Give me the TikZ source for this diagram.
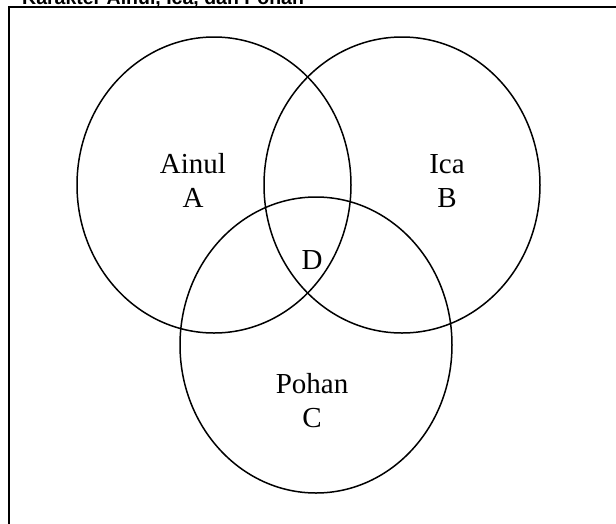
\documentclass[tikz,border=0pt]{standalone}
\usepackage{fontspec}
\setmainfont{Liberation Serif}
\newfontfamily\titlefont[BoldFont={Liberation Sans Bold}]{Liberation Sans}
\begin{document}
\begin{tikzpicture}[x=1pt,y=-1pt,
  circ/.style={draw=black,line width=1.5pt},
  lbl/.style={font=\fontsize{29}{34}\selectfont,align=center,inner sep=0pt},
  frame/.style={draw=black,line width=2.2pt}]
\useasboundingbox (0,0) rectangle (616,523);
\clip (0,0) rectangle (616,523);
\node[anchor=base west,inner sep=0pt,font=\titlefont\bfseries\fontsize{19.5}{22}\selectfont] (title) at (22,4.5) {Karakter Ainul, Ica, dan Pohan};
\draw[frame] (9,7) rectangle (640,560);
\draw[circ] (214,185) ellipse [x radius=137,y radius=148];
\draw[circ] (402,185) ellipse [x radius=138,y radius=148];
\draw[circ] (316,345) ellipse [x radius=136,y radius=148];
\node[lbl,anchor=base] (a) at (193,207) {Ainul\\A};
\node[lbl,anchor=base] (b) at (447,207) {Ica\\B};
\node[lbl,anchor=base] (d) at (312,269) {D};
\node[lbl,anchor=base] (c) at (312,427) {Pohan\\C};
\end{tikzpicture}
\end{document}
